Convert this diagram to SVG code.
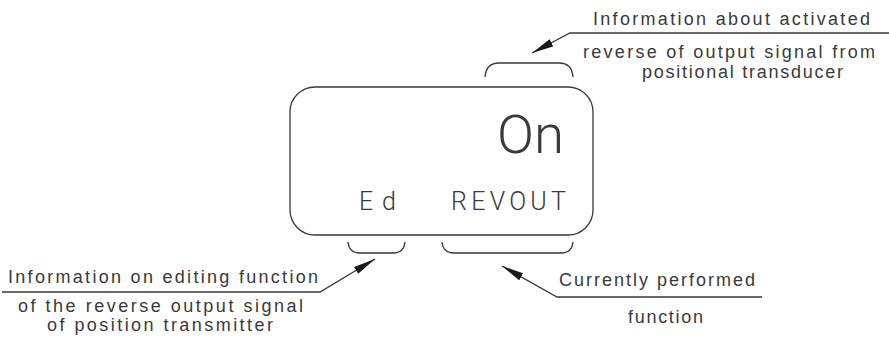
<svg xmlns="http://www.w3.org/2000/svg" width="889" height="339" viewBox="0 0 889 339">
<defs>
<style>
.ln{fill:none;stroke:#3a3a3a;stroke-width:1.3}
.lbl{font-family:"Liberation Sans",Arial,sans-serif;font-size:18px;fill:#3a3a3a}
.lcd{font-family:Roboto,"Liberation Sans",Arial,sans-serif;font-weight:300;fill:#3a3a3a}
</style>
<marker id="ah" markerUnits="userSpaceOnUse" markerWidth="24" markerHeight="10" refX="22" refY="4" orient="auto">
<path d="M0,0 L22,4 L0,8 Z" fill="#1a1a1a"/>
</marker>
</defs>
<rect width="889" height="339" fill="#ffffff"/>
<g id="display">
<rect class="ln" x="290" y="87" width="303" height="148" rx="25" ry="25"/>
<text class="lcd" x="497" y="153" font-size="53" textLength="67" lengthAdjust="spacingAndGlyphs">On</text>
<text class="lcd" x="359" y="210" font-size="25" textLength="37" lengthAdjust="spacing">Ed</text>
<text class="lcd" x="451" y="210" font-size="25" textLength="115" lengthAdjust="spacing">REVOUT</text>
</g>
<g id="bracket-top"><path class="ln" d="M485,77 Q486,63 499,63 H559 Q572,63 573,77"/></g>
<g id="bracket-ed"><path class="ln" d="M348,242 Q349,253 360,253 H393 Q404,253 405,242"/></g>
<g id="bracket-revout"><path class="ln" d="M442,242 Q443,253 454,253 H561 Q572,253 573,242"/></g>
<g id="label-top">
<text class="lbl" x="593" y="25" textLength="277" lengthAdjust="spacing">Information about activated</text>
<text class="lbl" x="583" y="58" textLength="292" lengthAdjust="spacing">reverse of output signal from</text>
<text class="lbl" x="642" y="78" textLength="201" lengthAdjust="spacing">positional transducer</text>
</g>
<g id="label-left">
<text class="lbl" x="8" y="283" textLength="310" lengthAdjust="spacing">Information on editing function</text>
<text class="lbl" x="18" y="312" textLength="285" lengthAdjust="spacing">of the reverse output signal</text>
<text class="lbl" x="47" y="331" textLength="226" lengthAdjust="spacing">of position transmitter</text>
</g>
<g id="label-right">
<text class="lbl" x="559" y="286" textLength="196" lengthAdjust="spacing">Currently performed</text>
<text class="lbl" x="628" y="323" textLength="75" lengthAdjust="spacing">function</text>
</g>
<g id="connectors">
<path class="ln" d="M889,33 H570 L532,53" marker-end="url(#ah)"/>
<path class="ln" d="M2,292 H320 L375,259" marker-end="url(#ah)"/>
<path class="ln" d="M762,297 H557 L502,266" marker-end="url(#ah)"/>
</g>
</svg>
